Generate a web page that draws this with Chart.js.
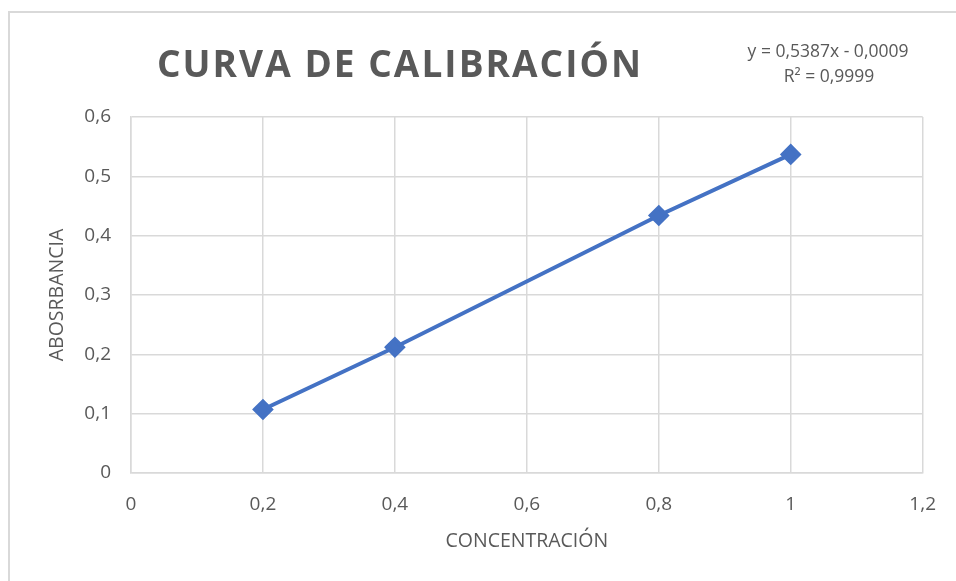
<!DOCTYPE html>
<html>
<head>
<meta charset="utf-8">
<script src="https://cdn.jsdelivr.net/npm/chart.js@4.4.0/dist/chart.umd.min.js"></script>
<style>
  html, body { margin: 0; padding: 0; background: #fff; }
  #wrap { position: relative; width: 956px; height: 581px; }
  #frame { position: absolute; left: 8px; top: 11px; right: -2px; bottom: -2px; border: 2px solid #d9d9d9; box-sizing: border-box; }
  canvas { position: absolute; left: 0; top: 0; }
</style>
</head>
<body>
<div id="wrap">
  <div id="frame"></div>
  <canvas id="chart" width="956" height="581"></canvas>
</div>
<script>
// calibration data
const concentracion = [0.2, 0.4, 0.8, 1];
const absorbancia = [0.107, 0.212, 0.434, 0.537];
const xTicks = [0, 0.2, 0.4, 0.6, 0.8, 1, 1.2];
const yTicks = [0, 0.1, 0.2, 0.3, 0.4, 0.5, 0.6];
const chartTitle = 'CURVA DE CALIBRACIÓN';
const trendLabel = ['y = 0,5387x - 0,0009', 'R² = 0,9999'];

const textColor = '#595959';
const gridColor = '#d9d9d9';
const fontFamily = "'Open Sans', 'Noto Sans', sans-serif";

function fmt(v) {
  return String(Math.round(v * 10) / 10).replace('.', ',');
}

// title + trendline label drawn by hand (needs letter spacing)
const headerPlugin = {
  id: 'header',
  afterDraw(chart) {
    const ctx = chart.ctx;
    ctx.save();
    ctx.fillStyle = textColor;
    ctx.textBaseline = 'middle';

    ctx.font = 'bold 37px ' + fontFamily;
    const target = 484;
    const w = ctx.measureText(chartTitle).width;
    const spacing = (target - w) / (chartTitle.length - 1);
    ctx.letterSpacing = spacing.toFixed(2) + 'px';
    ctx.textAlign = 'left';
    ctx.fillText(chartTitle, 157, 66);
    ctx.letterSpacing = '0px';

    ctx.font = '17.5px ' + fontFamily;
    ctx.textAlign = 'center';
    ctx.fillText(trendLabel[0], 828, 52);
    ctx.fillText(trendLabel[1], 829, 77);
    ctx.restore();
  }
};

new Chart(document.getElementById('chart'), {
  type: 'scatter',
  data: {
    datasets: [{
      data: concentracion.map((x, i) => ({ x: x, y: absorbancia[i] })),
      showLine: true,
      borderColor: '#4472c4',
      backgroundColor: '#4472c4',
      borderWidth: 4,
      pointStyle: 'rectRot',
      pointRadius: 8,
      pointHoverRadius: 8,
      tension: 0
    }]
  },
  options: {
    responsive: false,
    animation: false,
    layout: { padding: { left: 42, right: 28, top: 117, bottom: 24 } },
    plugins: {
      legend: { display: false },
      tooltip: { enabled: false }
    },
    scales: {
      x: {
        type: 'linear',
        min: 0,
        max: 1.2,
        afterBuildTicks: (s) => { s.ticks = xTicks.map(v => ({ value: v })); },
        afterFit: (s) => { s.height = 84; },
        grid: { color: gridColor, lineWidth: 1.5, drawTicks: false },
        border: { color: gridColor, width: 1.5 },
        ticks: {
          color: textColor,
          padding: 20,
          font: { family: fontFamily, size: 19 },
          callback: (v) => fmt(v)
        },
        title: {
          display: true,
          text: 'CONCENTRACIÓN',
          color: textColor,
          font: { family: fontFamily, size: 19.5 }
        }
      },
      y: {
        type: 'linear',
        min: 0,
        max: 0.6,
        afterBuildTicks: (s) => { s.ticks = yTicks.map(v => ({ value: v })); },
        afterFit: (s) => { s.width = 89; },
        grid: { color: gridColor, lineWidth: 1.5, drawTicks: false },
        border: { color: gridColor, width: 1.5 },
        ticks: {
          color: textColor,
          padding: 20,
          font: { family: fontFamily, size: 19 },
          callback: (v) => fmt(v)
        },
        title: {
          display: true,
          text: 'ABOSRBANCIA',
          color: textColor,
          font: { family: fontFamily, size: 19.5 }
        }
      }
    }
  },
  plugins: [headerPlugin]
});
</script>
</body>
</html>
